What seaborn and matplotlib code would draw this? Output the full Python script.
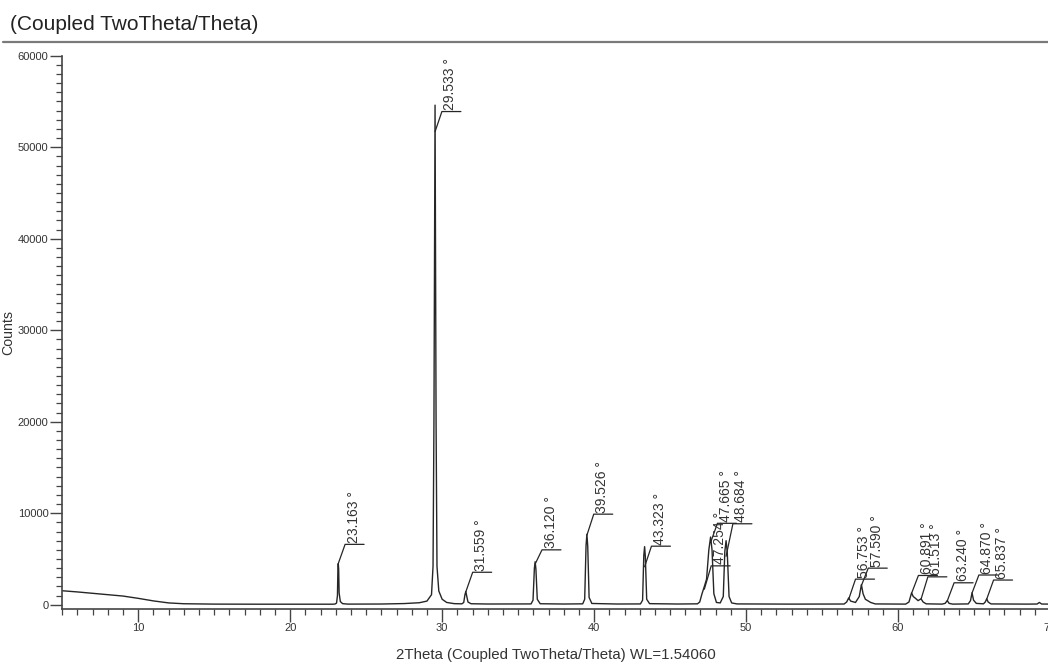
import matplotlib
matplotlib.use("Agg")
import matplotlib.pyplot as plt
from matplotlib.lines import Line2D
from matplotlib.ticker import MultipleLocator
import pandas as pd
import seaborn as sns

# Diffraction pattern: 2theta (deg) and counts at the profile vertices
two_theta = [
    5.0, 6.0, 7.0, 8.0, 9.0, 10.0, 11.0, 12.0, 13.0, 15.0, 18.0, 22.8,
    22.95, 23.05, 23.11, 23.14, 23.163, 23.19, 23.22, 23.30, 23.45, 23.8,
    26.0, 27.5, 28.5, 29.0, 29.3, 29.40, 29.46, 29.533, 29.60, 29.66, 29.78,
    30.0, 30.3, 30.8, 31.3,
    31.42, 31.50, 31.559, 31.61, 31.70, 31.9, 33.0,
    35.85, 35.98, 36.07, 36.12, 36.17, 36.26, 36.45, 38.0,
    39.25, 39.38, 39.47, 39.526, 39.58, 39.67, 39.85, 41.5,
    43.05, 43.19, 43.27, 43.323, 43.37, 43.46, 43.65, 45.5,
    46.8, 46.95, 47.10, 47.254, 47.40, 47.55, 47.665, 47.76, 47.88, 48.05,
    48.30, 48.50, 48.60, 48.684, 48.76, 48.88, 49.05, 49.4, 53.0,
    56.45, 56.62, 56.753, 56.88, 57.20, 57.45, 57.59, 57.70, 57.85, 58.00,
    58.20, 58.50, 60.5,
    60.72, 60.891, 61.00, 61.15, 61.32, 61.513, 61.65, 61.85, 62.9,
    63.10, 63.24, 63.36, 63.6,
    64.62, 64.77, 64.87, 64.97, 65.15,
    65.62, 65.74, 65.837, 65.93, 66.12, 68.5,
    69.15, 69.30, 69.45, 70.0,
]
counts = [
    1530, 1400, 1250, 1100, 950, 700, 420, 200, 110, 70, 60, 60,
    80, 180, 1000, 3900, 4500, 3900, 1300, 350, 120, 70,
    80, 130, 220, 400, 1100, 4200, 20000, 54600, 20000, 4200, 1500,
    600, 250, 120, 100,
    250, 1100, 1450, 1000, 300, 110, 80,
    90, 500, 4000, 4700, 3900, 600, 110, 80,
    100, 600, 6500, 7700, 6400, 800, 140, 80,
    90, 500, 5400, 6350, 5300, 600, 120, 80,
    100, 300, 1200, 2000, 2800, 6000, 7400, 6000, 1200, 250,
    200, 900, 5800, 7000, 5800, 900, 200, 90, 70,
    80, 300, 750, 400, 250, 900, 2200, 1200, 600, 450,
    250, 90, 70,
    300, 1300, 900, 700, 450, 650, 300, 100, 70,
    150, 450, 150, 70,
    90, 450, 1300, 500, 150,
    100, 300, 650, 300, 90, 70,
    80, 250, 80, 70,
]

# Peak-search results: position, leader start intensity, tag bar height
peak_positions = [23.163, 29.533, 31.559, 36.120, 39.526, 43.323, 47.254, 47.665,
                  48.684, 56.753, 57.590, 60.891, 61.513, 63.240, 64.870, 65.837]
tag_base = [4500, 51700, 1420, 4450, 7600, 4150, 1700, 6800,
            5300, 600, 2100, 1250, 600, 420, 1280, 620]
tag_level = [6600, 53900, 3550, 6000, 9900, 6400, 4250, 8900,
             8850, 2800, 4000, 3200, 3050, 2400, 3250, 2700]

x_label = "2Theta (Coupled TwoTheta/Theta) WL=1.54060"
y_label = "Counts"
title = "(Coupled TwoTheta/Theta)"

sns.set_theme(style="ticks")
plt.rcParams["font.family"] = ["Liberation Sans", "DejaVu Sans"]

line_col = "#262626"
text_col = "#333333"

fig = plt.figure(figsize=(10.48, 6.69), dpi=100)
fig.patch.set_facecolor("white")
ax = fig.add_axes([0.0594, 0.0892, 0.9425, 0.8275])
ax.set_facecolor("white")

df = pd.DataFrame({"two_theta": two_theta, "counts": counts})
sns.lineplot(data=df, x="two_theta", y="counts", ax=ax, color=line_col,
             linewidth=1.0, estimator=None, sort=False)

# Peak tags: slanted leader, horizontal bar, rotated position label
lead_dx = 0.45
bar_len = 1.25
for pos, base, level in zip(peak_positions, tag_base, tag_level):
    x1 = pos + lead_dx
    ax.plot([pos, x1, x1 + bar_len], [base, level, level],
            color=line_col, linewidth=0.9)
    ax.text(x1 + 0.1, level + 150, f"{pos:.3f} °", rotation=90,
            ha="left", va="bottom", fontsize=10, color=text_col)

ax.set_xlim(5, 70)
ax.set_ylim(-500, 60000)
ax.xaxis.set_major_locator(MultipleLocator(10))
ax.xaxis.set_minor_locator(MultipleLocator(1))
ax.yaxis.set_major_locator(MultipleLocator(10000))
ax.yaxis.set_minor_locator(MultipleLocator(1000))

for side in ("top", "right"):
    ax.spines[side].set_visible(False)
for side in ("left", "bottom"):
    ax.spines[side].set_color("#444444")
    ax.spines[side].set_linewidth(1.2)

ax.tick_params(axis="both", which="major", length=9, width=1.0, direction="out",
               colors="#444444", labelcolor=text_col, labelsize=8, pad=1)
ax.tick_params(axis="both", which="minor", length=4, width=0.9, direction="out",
               colors="#444444")

ax.set_xlabel(x_label, fontsize=10.8, color=text_col, labelpad=11)
ax.set_ylabel(y_label, fontsize=10.2, color=text_col, labelpad=2)

fig.text(10 / 1048, 1 - 25 / 669, title, fontsize=15, color="#222222",
         ha="left", va="center")
fig.add_artist(Line2D([3 / 1048, 1.0], [1 - 41.7 / 669] * 2,
                      color="#7a7a7a", linewidth=1.6))

fig.savefig("out.png", dpi=100, facecolor="white")
